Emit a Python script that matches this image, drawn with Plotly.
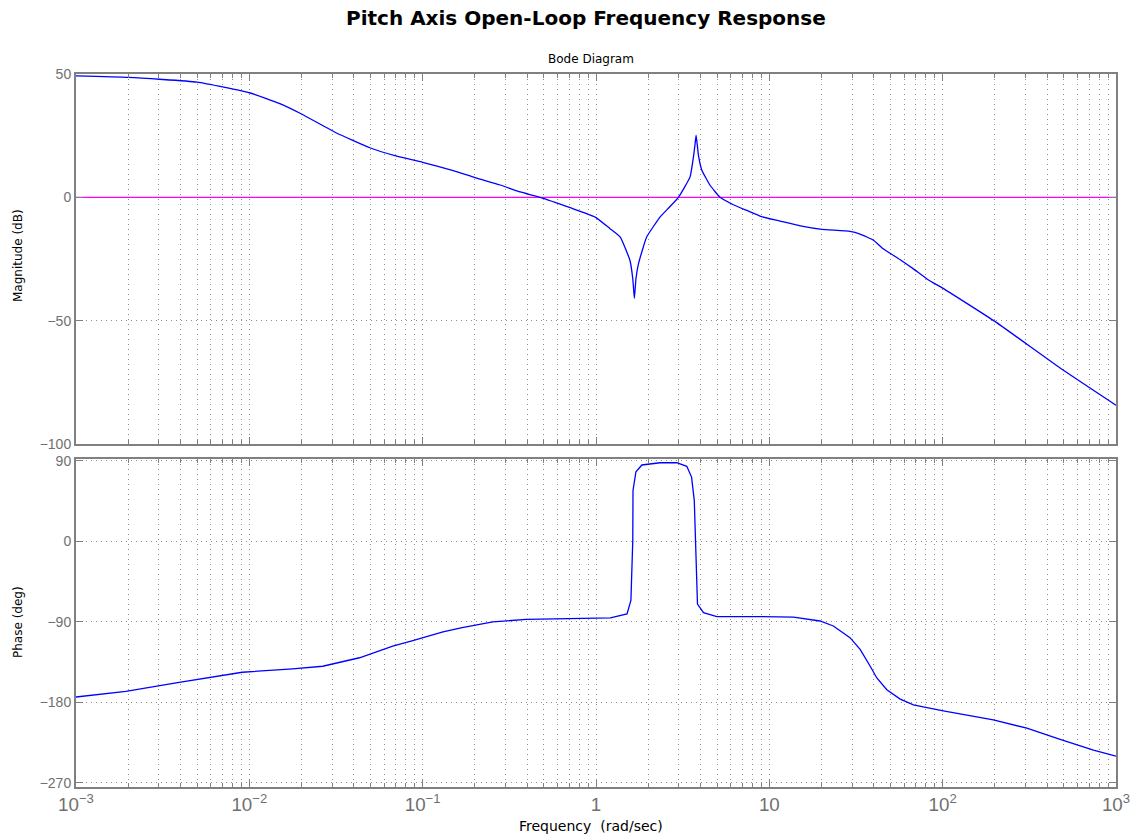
import plotly.graph_objects as go

# ---- data ----
mag_freq = [0.001, 0.002, 0.005, 0.01, 0.015, 0.02, 0.0316, 0.05, 0.07, 0.1, 0.15, 0.2, 0.28, 0.365,
            0.476, 0.71, 0.99, 1.2, 1.38, 1.57, 1.63, 1.665, 1.70, 1.76, 1.96, 2.34,
            2.65, 2.99, 3.49, 3.65, 3.72, 3.78, 3.90, 4.08, 4.55, 5.2, 6.2, 7.41, 9.0,
            11.5, 15.1, 20.1, 29.2, 33.4, 39.9, 44.9, 56.9, 67.8, 82.8, 100, 201, 476, 1000]
mag_db = [49.2, 48.6, 46.7, 42.4, 38.0, 33.8, 26.2, 20.0, 16.8, 14.2, 10.8, 8.0, 5.0, 2.2,
          0.0, -4.2, -8.0, -12.6, -16.1, -25.6, -33.0, -41.0, -33.0, -26.8, -16.1, -8.0,
          -4.0, 0.0, 8.3, 16.4, 21.0, 25.2, 17.0, 11.0, 4.9, 0.0, -3.0, -5.3, -7.8,
          -9.6, -11.6, -13.0, -13.8, -14.9, -17.4, -20.6, -25.3, -29.0, -33.5, -36.8, -50.4, -69.2, -84.3]

phase_freq = [0.001, 0.00194, 0.00378, 0.00734, 0.0091, 0.0178, 0.0265, 0.0432, 0.0672,
              0.0857, 0.131, 0.169, 0.254, 0.395, 0.96, 1.21, 1.51, 1.59, 1.63, 1.635,
              1.70, 1.84, 2.34, 2.92, 3.34, 3.56, 3.69, 3.76, 3.85, 4.17, 4.98, 8.85,
              13.8, 19.6, 23.4, 29.2, 33.4, 38.2, 41.7, 47.6, 56.9, 67.8, 99, 196, 306,
              476, 741, 1000]
phase_deg = [-173.9, -167.6, -158.2, -148.8, -146.2, -142.4, -139.5, -130.0, -117.0,
             -111.4, -101.2, -96.3, -90.0, -87.0, -85.5, -85.5, -81.0, -66.0, 1.0, 57.0,
             78.0, 85.5, 88.0, 88.0, 84.0, 72.0, 46.0, -17.7, -70.0, -79.5, -84.0, -84.0,
             -84.5, -88.9, -94.5, -107.5, -120.7, -139.5, -152.6, -165.7, -176.2, -182.6,
             -189.0, -199.4, -208.8, -221.2, -233.2, -240.0]

zero_freq = [0.001, 1000]
zero_db = [0, 0]

mag_ticks = [-100, -50, 0, 50]
phase_ticks = [-270, -180, -90, 0, 90]

# ---- figure ----
W, H = 1134, 837
ML, MR, MT, MB = 76, 18, 74, 50
ph = H - MT - MB

def yfrac(py):
    return (H - MB - py) / ph

def xfrac(px):
    return (px - ML) / (W - ML - MR)

fig = go.Figure()
fig.add_trace(go.Scatter(x=zero_freq, y=zero_db, mode="lines",
                         line=dict(color="#ff00ff", width=1.3),
                         xaxis="x", yaxis="y", showlegend=False, hoverinfo="skip"))
fig.add_trace(go.Scatter(x=mag_freq, y=mag_db, mode="lines", line_shape="spline",
                         line=dict(color="#0000ff", width=1.3, smoothing=0.4),
                         xaxis="x", yaxis="y", showlegend=False))
fig.add_trace(go.Scatter(x=phase_freq, y=phase_deg, mode="lines",
                         line=dict(color="#0000ff", width=1.3),
                         xaxis="x2", yaxis="y2", showlegend=False))

gray = "#808080"
gridc = "#8c8c8c"
gdash = "1px,4px"
font_fam = "Liberation Sans, Arial, sans-serif"
label_fam = "DejaVu Sans, Verdana, sans-serif"
ytickfont = dict(family=font_fam, size=14, color="#707070")
xtickfont = dict(family=font_fam, size=15, color="#707070")

xcommon = dict(
    type="log", range=[-3, 3], dtick=1, exponentformat="power",
    showline=True, linecolor=gray, linewidth=2, mirror="allticks",
    ticks="inside", ticklen=7, tickcolor=gray, tickwidth=1,
    showgrid=True, gridcolor=gridc, griddash=gdash, gridwidth=1,
    minor=dict(dtick="D1", ticks="inside", ticklen=4, tickcolor=gray,
               showgrid=True, gridcolor=gridc, griddash=gdash, gridwidth=1),
    tickfont=xtickfont, zeroline=False, automargin=False,
)

ycommon = dict(showline=True, linecolor=gray, linewidth=2,
               mirror="allticks", ticks="inside", ticklen=7, tickcolor=gray,
               showgrid=True, gridcolor=gridc, griddash=gdash, gridwidth=1,
               zeroline=False, tickfont=ytickfont, automargin=False)

fig.update_layout(
    width=W, height=H,
    margin=dict(l=ML, r=MR, t=MT, b=MB),
    paper_bgcolor="white", plot_bgcolor="white",
    xaxis=dict(**xcommon, domain=[0, 1], anchor="y", showticklabels=False, matches="x2"),
    yaxis=dict(**ycommon, domain=[yfrac(444), 1.0], anchor="x", range=[-100, 50],
               tickvals=mag_ticks),
    xaxis2=dict(**xcommon, domain=[0, 1], anchor="y2"),
    yaxis2=dict(**ycommon, domain=[0, yfrac(459)], anchor="x2", range=[-274.5, 92.2],
                tickvals=phase_ticks),
    font=dict(family=font_fam, color="black"),
)

fig.add_annotation(text="<b>Pitch Axis Open-Loop Frequency Response</b>",
                   xref="paper", yref="paper", x=xfrac(586), y=yfrac(18),
                   showarrow=False, xanchor="center", yanchor="middle",
                   font=dict(family=label_fam, size=20, color="black"))
fig.add_annotation(text="Bode Diagram", xref="paper", yref="paper",
                   x=xfrac(591), y=yfrac(59), showarrow=False,
                   xanchor="center", yanchor="middle",
                   font=dict(family=label_fam, size=12, color="black"))
fig.add_annotation(text="Magnitude (dB)", xref="paper", yref="paper",
                   x=xfrac(18), y=yfrac(256), textangle=-90,
                   showarrow=False, xanchor="center", yanchor="middle",
                   font=dict(family=label_fam, size=12, color="black"))
fig.add_annotation(text="Phase (deg)", xref="paper", yref="paper",
                   x=xfrac(18), y=yfrac(622), textangle=-90,
                   showarrow=False, xanchor="center", yanchor="middle",
                   font=dict(family=label_fam, size=12, color="black"))
fig.add_annotation(text="Frequency  (rad/sec)", xref="paper", yref="paper",
                   x=xfrac(591), y=yfrac(826), showarrow=False,
                   xanchor="center", yanchor="middle",
                   font=dict(family=label_fam, size=14, color="black"))

fig.write_html("out.html", config={"displayModeBar": False},
               post_script="document.body.style.margin='0';document.body.style.overflow='hidden';")
